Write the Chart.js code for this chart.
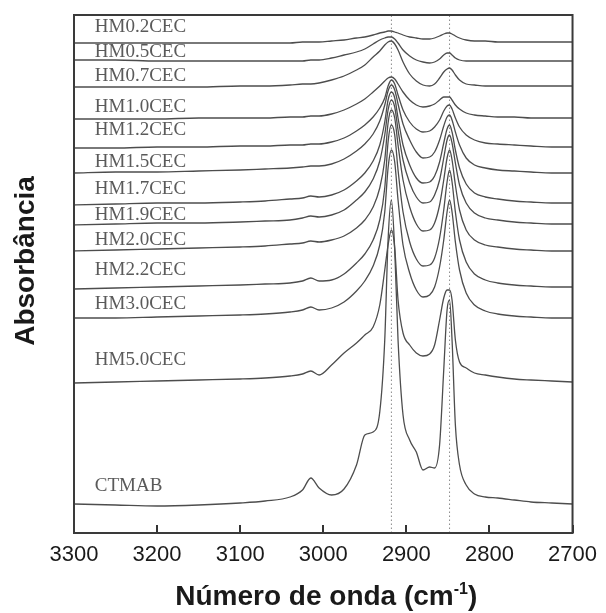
<!DOCTYPE html>
<html><head><meta charset="utf-8">
<script src="https://cdn.jsdelivr.net/npm/chart.js@4.4.1/dist/chart.umd.min.js"></script>
<style>html,body{margin:0;padding:0;background:#fff;} canvas{display:block;}</style>
</head><body>
<canvas id="c" width="606" height="613"></canvas>
<script>
// Wavenumber grid (cm-1)
const wavenumbers = [3300,3250,3200,3150,3100,3070,3040,3025,3015,3005,2990,2975,2960,2950,2940,2932,2926,2922,2918,2914,2910,2904,2896,2888,2880,2872,2866,2860,2855,2851,2848,2845,2841,2836,2828,2818,2805,2790,2770,2750,2725,2700];

// Series names (as labelled in the plot)
const seriesNames = ["HM0.2CEC","HM0.5CEC","HM0.7CEC","HM1.0CEC","HM1.2CEC","HM1.5CEC","HM1.7CEC","HM1.9CEC","HM2.0CEC","HM2.2CEC","HM3.0CEC","HM5.0CEC","CTMAB"];

// Offset absorbance (arbitrary units), one array per spectrum
const hm02 = [490,490,490,490,490,490,490,491,491,491,492,493,495,496,498,500,501,502,502,501,500,498,496,495,494,494,495,497,499,500,500,499,497,495,493,492,492,491,491,491,491,491];
const hm05 = [473,473,472,472,472,472,472,472,473,473,475,478,481,484,489,493,495,496,496,494,490,483,477,473,471,470,471,474,478,480,480,478,475,473,472,472,472,472,472,472,472,472];
const hm07 = [446,446,446,446,447,447,448,449,449,450,453,457,463,468,476,482,488,491,492,489,483,471,459,452,448,447,449,455,461,464,465,463,458,453,449,448,447,447,447,447,447,447];
const hm10 = [414,414,414,415,415,415,416,416,417,417,419,423,429,434,441,447,452,455,456,454,449,441,433,428,426,427,429,433,436,436,436,433,428,424,420,418,417,416,416,415,415,415];
const hm12 = [385,385,386,386,387,387,388,388,389,389,391,395,402,408,416,425,435,447,453,449,438,423,411,404,401,402,406,413,422,427,428,424,415,406,398,393,390,389,388,387,386,386];
const hm15 = [360,361,361,362,363,364,365,366,367,367,369,374,382,389,399,412,428,442,448,443,429,409,393,381,375,376,381,393,407,416,418,413,401,388,375,368,365,363,362,361,360,360];
const hm17 = [328,329,330,330,331,332,334,335,337,336,338,343,352,360,372,388,411,433,441,435,415,388,368,355,350,351,357,371,390,404,408,401,383,365,349,340,336,334,332,331,330,330];
const hm19 = [308,309,310,310,311,312,313,315,317,316,318,323,333,341,354,372,398,423,433,426,403,373,350,336,330,331,338,353,375,393,398,390,370,348,330,320,315,313,311,310,309,309];
const hm20 = [282,283,284,285,286,287,289,290,292,291,293,297,305,313,326,345,373,410,423,415,388,353,326,309,302,303,310,328,353,375,383,373,348,323,303,293,288,286,284,283,282,282];
const hm22 = [244,245,246,247,248,249,250,252,255,252,253,259,270,279,293,313,345,391,408,398,363,321,291,274,267,268,275,295,323,351,363,351,321,293,271,259,253,250,248,247,246,246];
const hm30 = [215,215,216,217,218,219,221,223,226,223,225,231,242,252,267,288,321,365,383,371,333,288,260,243,236,238,246,266,293,321,333,321,291,263,240,228,222,219,217,216,215,215];
const hm50 = [150,151,152,153,154,155,157,159,162,158,168,180,190,198,206,228,263,288,303,285,233,200,188,180,177,179,188,213,235,243,243,233,193,171,165,160,158,156,154,153,152,151];
const ctmab = [29,28,27,28,30,32,36,43,55,45,38,44,68,98,101,121,193,293,333,283,193,118,93,81,63,66,65,88,163,223,233,193,108,68,48,39,36,35,33,31,30,29];

const allSeries = [hm02,hm05,hm07,hm10,hm12,hm15,hm17,hm19,hm20,hm22,hm30,hm50,ctmab];

// Reference (dotted) lines at band positions
const refPeaks = [2918, 2848];
// X tick values
const xTicks = [3300,3200,3100,3000,2900,2800,2700];
// Height (same units) at which each series name is written, and its wavenumber anchor
const labelLevels = [506,481,457,426,403,371,344,318,293,263,229,173,47];
const labelAnchor = 3275;

const Y_MAX = 518;

const datasets = allSeries.map((arr, i) => ({
  label: seriesNames[i],
  data: arr.map((v, j) => ({x: wavenumbers[j], y: v})),
  borderColor: '#4d4d4d',
  borderWidth: 1.3,
  pointRadius: 0,
  fill: false,
  cubicInterpolationMode: 'monotone'
}));
refPeaks.forEach(p => datasets.push({
  label: 'ref' + p,
  data: [{x: p, y: 0}, {x: p, y: Y_MAX}],
  borderColor: '#8a8a8a',
  borderWidth: 1,
  borderDash: [1.5, 2.5],
  pointRadius: 0,
  fill: false
}));

const TF = '"Liberation Sans", Arial, sans-serif';
const decor = {
  id: 'decor',
  afterDraw(chart) {
    const ctx = chart.ctx, a = chart.chartArea;
    const xs = chart.scales.x, ys = chart.scales.y;
    ctx.save();
    // series names
    ctx.fillStyle = '#5a5a5a';
    ctx.font = '19px "Liberation Serif", "Times New Roman", serif';
    ctx.textAlign = 'left';
    ctx.textBaseline = 'middle';
    seriesNames.forEach((n, i) => {
      ctx.fillText(n, xs.getPixelForValue(labelAnchor), ys.getPixelForValue(labelLevels[i]));
    });
    // inward ticks
    ctx.strokeStyle = '#333';
    ctx.lineWidth = 2;
    xTicks.forEach(t => {
      const x = Math.round(xs.getPixelForValue(t));
      ctx.beginPath();
      ctx.moveTo(x, a.bottom);
      ctx.lineTo(x, a.bottom - 8);
      ctx.stroke();
    });
    // frame
    ctx.strokeStyle = '#3a3a3a';
    ctx.lineWidth = 2;
    ctx.strokeRect(a.left, a.top, a.right - a.left, a.bottom - a.top);
    // x title with superscript
    ctx.fillStyle = '#1a1a1a';
    ctx.textBaseline = 'alphabetic';
    const t1 = 'Número de onda (cm', t2 = '-1', t3 = ')';
    const big = 'bold 28px ' + TF, small = 'bold 16px ' + TF;
    ctx.font = big;
    const w1 = ctx.measureText(t1).width, w3 = ctx.measureText(t3).width;
    ctx.font = small;
    const w2 = ctx.measureText(t2).width;
    const cx = (a.left + a.right) / 2 + 3;
    const x0 = cx - (w1 + w2 + w3) / 2;
    const by = 605;
    ctx.textAlign = 'left';
    ctx.font = big;
    ctx.fillText(t1, x0, by);
    ctx.font = small;
    ctx.fillText(t2, x0 + w1, by - 11);
    ctx.font = big;
    ctx.fillText(t3, x0 + w1 + w2, by);
    // y title
    ctx.save();
    ctx.translate(34, 261);
    ctx.rotate(-Math.PI / 2);
    ctx.textAlign = 'center';
    ctx.font = big;
    ctx.fillText('Absorbância', 0, 0);
    ctx.restore();
    ctx.restore();
  }
};

new Chart(document.getElementById('c'), {
  type: 'line',
  data: { datasets },
  options: {
    responsive: false,
    animation: false,
    devicePixelRatio: 1,
    layout: { padding: { left: 74, right: 33, top: 15, bottom: 0 } },
    plugins: { legend: { display: false }, tooltip: { enabled: false }, title: { display: false } },
    scales: {
      x: {
        type: 'linear',
        reverse: true,
        min: 2700, max: 3300,
        afterBuildTicks: s => { s.ticks = xTicks.map(v => ({value: v})); },
        afterFit: s => { s.height = 80; },
        grid: { display: false, drawTicks: false },
        border: { display: false },
        ticks: { padding: 9, color: '#1a1a1a', font: { family: TF, size: 22 }, maxRotation: 0, autoSkip: false,
                 callback: v => String(v) }
      },
      y: { display: false, min: 0, max: Y_MAX }
    }
  },
  plugins: [decor]
});
</script>
</body></html>
